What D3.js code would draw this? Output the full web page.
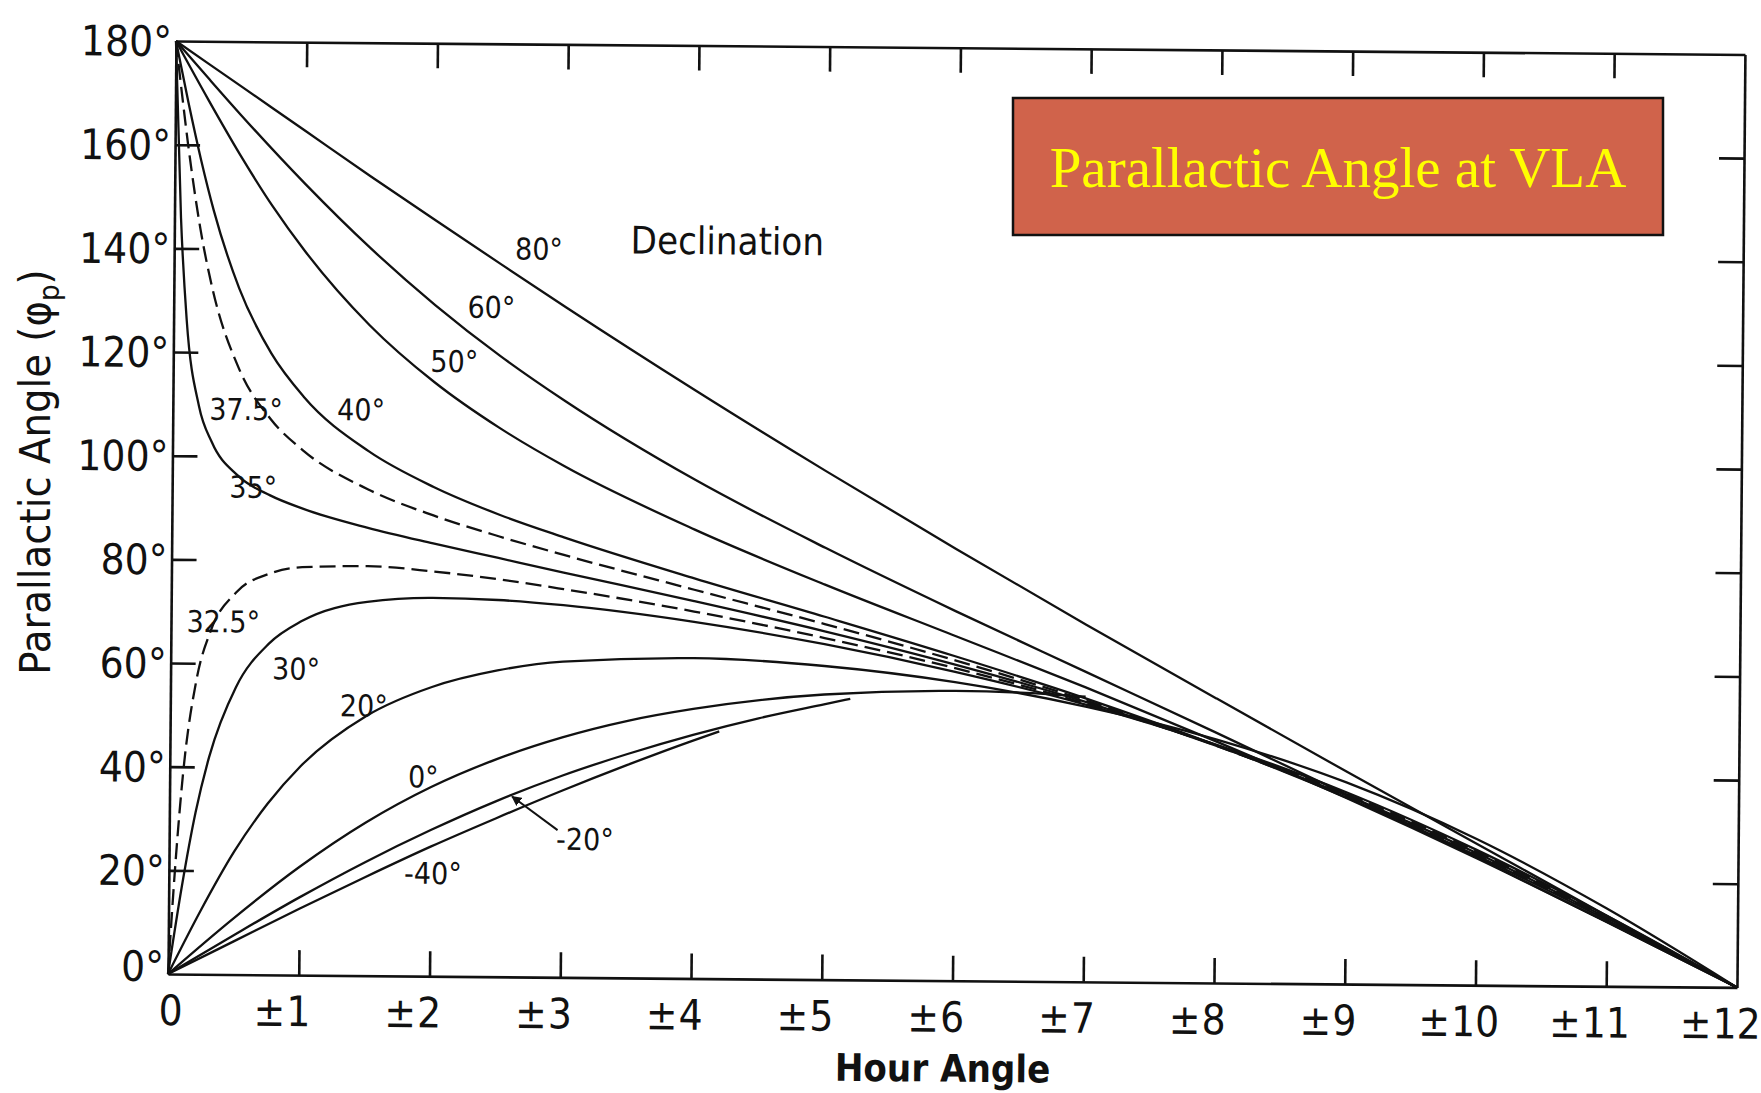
<!DOCTYPE html>
<html>
<head>
<meta charset="utf-8">
<script src="https://cdn.jsdelivr.net/npm/d3@7"></script>
<style>
  html, body { margin: 0; padding: 0; background: #ffffff; }
  svg { display: block; }
  .lbl { font-family: "DejaVu Sans Condensed", "DejaVu Sans", sans-serif; fill: #111; }
</style>
</head>
<body>
<svg id="chart" width="1761" height="1093"></svg>
<script>
// ---- data: parallactic angle (deg) versus |hour angle| (h) at the VLA ----
const hourTicks = [0, 1, 2, 3, 4, 5, 6, 7, 8, 9, 10, 11, 12];
const hourTickLabels = ["0", "1", "2", "3", "4", "5", "6", "7", "8", "9", "10", "11", "12"];
const angleTicks = [0, 20, 40, 60, 80, 100, 120, 140, 160, 180];
const angleTickLabels = ["0°", "20°", "40°", "60°", "80°", "100°", "120°", "140°", "160°", "180°"];

const declinations = ["80°", "60°", "50°", "40°", "37.5°", "35°", "32.5°", "30°", "20°", "0°", "-20°", "-40°"];

// [hour angle, parallactic angle]
const dec80 = [[0,180],[0.5,171.4],[1,162.8],[1.5,154.2],[2,145.8],[2.5,137.5],[3,129.3],[4,113.4],[5,98.1],[6,83.3],[7,68.9],[8,54.9],[9,41.0],[10,27.3],[11,13.6],[12,0]];
const dec60 = [[0,180],[0.25,172.9],[0.5,165.9],[1,152.6],[1.5,140.4],[2,129.5],[2.5,119.8],[3,111.2],[4,96.2],[5,83.3],[6,71.3],[7,59.8],[8,48.3],[9,36.6],[10,24.7],[11,12.4],[12,0]];
const dec50 = [[0,180],[0.25,168.8],[0.5,158.1],[0.75,148.3],[1,139.7],[1.5,125.5],[2,114.6],[2.5,105.9],[3,98.6],[4,86.6],[5,76.2],[6,66.5],[7,56.8],[8,46.6],[9,35.9],[10,24.5],[11,12.4],[12,0]];
const dec40 = [[0,180],[0.1,168.1],[0.2,157.1],[0.3,147.4],[0.5,132.4],[0.75,119.9],[1,111.6],[1.5,101.2],[2,94.4],[2.5,89.2],[3,84.9],[4,77.2],[5,70.0],[6,62.6],[7,54.7],[8,45.9],[9,36.0],[10,25.0],[11,12.8],[12,0]];
const dec37 = [[0,180],[0.05,169.7],[0.1,160.0],[0.2,143.7],[0.3,131.8],[0.5,117.1],[0.75,107.2],[1,101.2],[1.5,93.8],[2,88.9],[2.5,85.0],[3,81.5],[4,75.0],[5,68.6],[6,61.8],[7,54.3],[8,45.8],[9,36.2],[10,25.2],[11,13.0],[12,0]];
const dec35 = [[0,180],[0.05,145.9],[0.1,126.3],[0.2,109.6],[0.3,102.7],[0.5,96.3],[0.75,92.5],[1,90.0],[1.5,86.4],[2,83.5],[2.5,80.8],[3,78.1],[4,72.8],[5,67.2],[6,61.0],[7,54.0],[8,45.8],[9,36.4],[10,25.5],[11,13.2],[12,0]];
const dec32 = [[0,0],[0.05,21.5],[0.1,38.1],[0.2,57.0],[0.3,66.0],[0.5,73.8],[0.75,77.4],[1,78.7],[1.5,79.0],[2,78.1],[2.5,76.7],[3,74.9],[4,70.8],[5,65.9],[6,60.3],[7,53.7],[8,45.9],[9,36.7],[10,25.8],[11,13.4],[12,0]];
const dec30 = [[0,0],[0.1,16.9],[0.2,31.2],[0.3,41.9],[0.5,55.4],[0.75,63.9],[1,68.3],[1.5,72.1],[2,73.0],[2.5,72.7],[3,71.8],[4,68.8],[5,64.7],[6,59.6],[7,53.5],[8,46.0],[9,37.0],[10,26.1],[11,13.6],[12,0]];
const dec20 = [[0,0],[0.25,12.5],[0.5,23.8],[0.75,33.0],[1,40.3],[1.5,50.1],[2,55.8],[2.5,59.1],[3,60.9],[4,61.8],[5,60.5],[6,57.6],[7,53.1],[8,47.0],[9,38.9],[10,28.2],[11,15.0],[12,0]];
const dec0 = [[0,0],[0.5,10.9],[1,20.9],[1.5,29.5],[2,36.5],[2.5,42.0],[3,46.3],[3.5,49.6],[4,52.0],[5,55.0],[6,55.9],[6.5,55.7],[7,55.0]];
const decM20 = [[0,0],[0.5,7.6],[1,15.0],[1.5,21.9],[2,28.2],[2.5,33.9],[3,38.9],[3.5,43.2],[4,47.0],[4.5,50.3],[5,53.1],[5.2,54.2]];
const decM40 = [[0,0],[0.5,6.4],[1,12.8],[1.5,19.0],[2,25.0],[2.5,30.6],[3,36.0],[3.5,41.1],[4,45.9],[4.2,47.7]];

const curves = [dec80, dec60, dec50, dec40, dec37, dec35, dec32, dec30, dec20, dec0, decM20, decM40];
const dashedCurves = ["37.5°", "32.5°"];

// label anchor points in data units [hour angle, angle]
const labelPositions = [[2.79,140.5],[2.43,129.2],[2.15,118.7],[1.44,109.2],[0.56,109.1],[0.62,94.1],[0.40,68.1],[0.96,59.1],[1.48,52.1],[1.94,38.5],[3.18,26.7],[2.02,19.9]];
const arrowFrom = [2.97, 28.4];   // -20° label pointer
const arrowTo = [2.62, 34.8];
const legendTitle = "Declination";
const legendTitlePos = [4.23, 142.4];

// ---- layout ----
const svg = d3.select("#chart");
const plotW = 1569, plotH = 933;
const ox = 168, oy = 974;

const x = d3.scaleLinear().domain([0, 12]).range([0, plotW]);
const y = d3.scaleLinear().domain([0, 180]).range([plotH, 0]);

const g = svg.append("g")
  .attr("transform", `rotate(0.49, ${ox}, ${oy}) translate(${ox}, ${oy - plotH})`);

const frameStroke = 2.6;
const tickLen = 25;

// axes drawn as a closed frame with inward ticks
const axB = g.append("g").attr("transform", `translate(0, ${plotH})`)
  .call(d3.axisBottom(x).tickValues(hourTicks.slice(1, 12)).tickSizeInner(-tickLen).tickSizeOuter(0).tickFormat(""));
const axT = g.append("g")
  .call(d3.axisTop(x).tickValues(hourTicks.slice(1, 12)).tickSizeInner(-tickLen).tickSizeOuter(0).tickFormat(""));
const axL = g.append("g")
  .call(d3.axisLeft(y).tickValues(angleTicks.slice(1, 9)).tickSizeInner(-tickLen).tickSizeOuter(0).tickFormat(""));
const axR = g.append("g").attr("transform", `translate(${plotW}, 0)`)
  .call(d3.axisRight(y).tickValues(angleTicks.slice(1, 9)).tickSizeInner(-tickLen).tickSizeOuter(0).tickFormat(""));
[axB, axT, axL, axR].forEach(a => {
  a.selectAll("path, line").attr("stroke", "#111").attr("stroke-width", frameStroke);
});

// y tick labels (the bottom one sits a little higher, clear of the hour labels)
g.append("g").selectAll("text").data(angleTicks).join("text")
  .attr("class", "lbl")
  .attr("x", -4)
  .attr("y", d => y(d) - (d === 0 ? 8 : 0))
  .attr("dy", "0.36em")
  .attr("text-anchor", "end")
  .attr("font-size", 42)
  .text((d, i) => angleTickLabels[i]);

// x tick labels: digits centred on the tick, ± sign in front
const xl = g.append("g");
hourTicks.forEach((h, i) => {
  const t = xl.append("text").attr("class", "lbl")
    .attr("x", x(h) + (h === 0 ? 3 : 0)).attr("y", plotH + 36).attr("dy", "0.36em")
    .attr("text-anchor", "middle").attr("font-size", 42)
    .text(hourTickLabels[i]);
  if (h > 0) {
    const bb = t.node().getBBox();
    xl.append("text").attr("class", "lbl")
      .attr("x", bb.x - 1).attr("y", plotH + 36).attr("dy", "0.36em")
      .attr("text-anchor", "end").attr("font-size", 42)
      .text("±");
  }
});

// curves
const line = d3.line().x(d => x(d[0])).y(d => y(d[1])).curve(d3.curveMonotoneX);
g.append("g").selectAll("path").data(curves).join("path")
  .attr("d", line)
  .attr("fill", "none")
  .attr("stroke", "#111")
  .attr("stroke-width", 2.3)
  .attr("stroke-linejoin", "round")
  .attr("stroke-dasharray", (d, i) => dashedCurves.includes(declinations[i]) ? "16 7" : null);

// curve labels
g.append("g").selectAll("text").data(declinations).join("text")
  .attr("class", "lbl")
  .attr("x", (d, i) => x(labelPositions[i][0]))
  .attr("y", (d, i) => y(labelPositions[i][1]))
  .attr("dy", "0.36em")
  .attr("text-anchor", "middle")
  .attr("font-size", 30)
  .text(d => d);

g.append("text").attr("class", "lbl")
  .attr("x", x(legendTitlePos[0])).attr("y", y(legendTitlePos[1])).attr("dy", "0.36em")
  .attr("text-anchor", "middle").attr("font-size", 38)
  .text(legendTitle);

// pointer for the -20° curve
svg.append("defs").append("marker")
  .attr("id", "head").attr("viewBox", "0 0 10 10").attr("refX", 9).attr("refY", 5)
  .attr("markerWidth", 5).attr("markerHeight", 5).attr("orient", "auto")
  .append("path").attr("d", "M0,0 L10,5 L0,10 z").attr("fill", "#111");
g.append("line")
  .attr("x1", x(arrowFrom[0])).attr("y1", y(arrowFrom[1]))
  .attr("x2", x(arrowTo[0])).attr("y2", y(arrowTo[1]))
  .attr("stroke", "#111").attr("stroke-width", 2)
  .attr("marker-end", "url(#head)");

// axis titles
g.append("text").attr("class", "lbl")
  .attr("x", x(5.93)).attr("y", plotH + 101)
  .attr("text-anchor", "middle").attr("font-size", 38).attr("font-weight", "bold")
  .text("Hour Angle");

const yt = svg.append("text").attr("class", "lbl")
  .attr("transform", "translate(50, 472) rotate(-90)")
  .attr("text-anchor", "middle").attr("font-size", 43);
yt.append("tspan").text("Parallactic Angle (");
yt.append("tspan").text("φ");
yt.append("tspan").attr("font-size", 29).attr("dy", 9).text("p");
yt.append("tspan").attr("dy", -9).text(")");

// title box
svg.append("rect")
  .attr("x", 1013).attr("y", 98).attr("width", 650).attr("height", 137)
  .attr("fill", "#d0634b").attr("stroke", "#111").attr("stroke-width", 2.5);
svg.append("text")
  .attr("x", 1338).attr("y", 187)
  .attr("text-anchor", "middle")
  .attr("font-family", "'Liberation Serif', 'Times New Roman', serif")
  .attr("font-size", 57)
  .attr("fill", "#ffff00")
  .text("Parallactic Angle at VLA");
</script>
</body>
</html>
